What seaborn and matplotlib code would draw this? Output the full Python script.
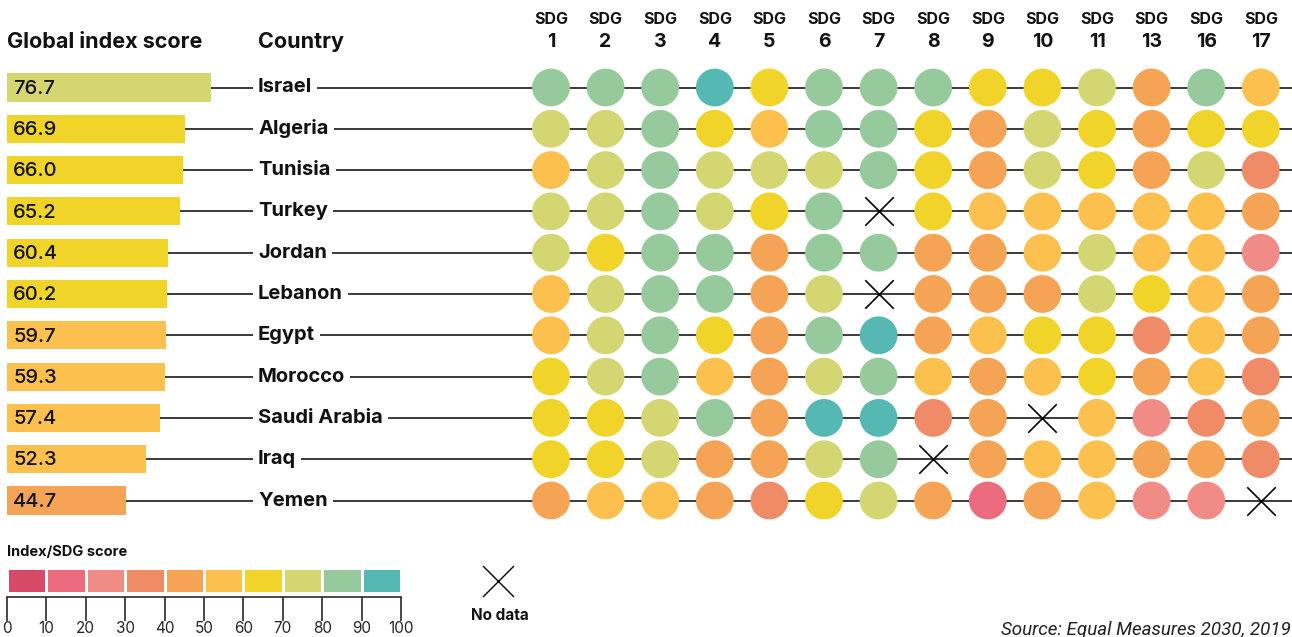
import numpy as np
import pandas as pd
import matplotlib
matplotlib.use('Agg')
import matplotlib.pyplot as plt
import seaborn as sns
from matplotlib.colors import ListedColormap

# data (dot scores are estimates within their colour band)
countries = ['Israel', 'Algeria', 'Tunisia', 'Turkey', 'Jordan', 'Lebanon',
             'Egypt', 'Morocco', 'Saudi Arabia', 'Iraq', 'Yemen']
global_score = [76.7, 66.9, 66.0, 65.2, 60.4, 60.2, 59.7, 59.3, 57.4, 52.3, 44.7]
sdgs = ['1', '2', '3', '4', '5', '6', '7', '8', '9', '10', '11', '13', '16', '17']

nan = np.nan
israel = [85, 85, 85, 95, 65, 85, 85, 85, 65, 65, 75, 45, 85, 55]
algeria = [75, 75, 85, 65, 55, 85, 85, 65, 45, 75, 65, 45, 65, 65]
tunisia = [55, 75, 85, 75, 75, 75, 85, 65, 45, 75, 65, 45, 75, 35]
turkey = [75, 75, 85, 75, 65, 85, nan, 65, 55, 55, 55, 55, 55, 45]
jordan = [75, 65, 85, 85, 45, 85, 85, 45, 45, 55, 75, 55, 55, 25]
lebanon = [55, 75, 85, 85, 45, 75, nan, 45, 45, 45, 75, 65, 55, 45]
egypt = [55, 75, 85, 65, 45, 85, 95, 45, 55, 65, 65, 35, 55, 45]
morocco = [65, 75, 85, 55, 45, 75, 85, 55, 45, 55, 65, 45, 55, 35]
saudi_arabia = [65, 65, 75, 85, 45, 95, 95, 35, 45, nan, 55, 25, 35, 45]
iraq = [65, 65, 75, 45, 45, 75, 85, nan, 45, 55, 55, 45, 45, 35]
yemen = [45, 55, 55, 45, 35, 65, 75, 45, 15, 45, 55, 25, 25, nan]
sdg_scores = [israel, algeria, tunisia, turkey, jordan, lebanon, egypt,
              morocco, saudi_arabia, iraq, yemen]

band_colors = ['#d64a68', '#ec6b7d', '#f08b86', '#f08b68', '#f5a455',
               '#fcc04e', '#f0d42a', '#d4d671', '#96c99c', '#56b8b2']
band_ticks = [0, 10, 20, 30, 40, 50, 60, 70, 80, 90, 100]


def band(v):
    return min(int(v // 10), 9)


sns.set_theme(style='white')
plt.rcParams['font.family'] = ['Inter', 'DejaVu Sans']
ink = '#111111'
line_col = '#2a2a2a'

W, H = 1292, 637
fig = plt.figure(figsize=(W / 100, H / 100), dpi=100)

row_h = 41.3
top_px = 87.5 - row_h / 2
bot_px = top_px + 11 * row_h
ax_bar = fig.add_axes([7 / W, 1 - bot_px / H, 266 / W, 11 * row_h / H])
col_w = 54.6
ax_dots = fig.add_axes([(551 - col_w / 2) / W, 1 - bot_px / H, 14 * col_w / W, 11 * row_h / H])

# --- bars ---
sns.barplot(x=global_score, y=countries, hue=countries,
            palette=[band_colors[band(v)] for v in global_score],
            saturation=1, width=0.68, linewidth=0, legend=False, ax=ax_bar)
ax_bar.set_xlim(0, 100)
ax_bar.set_ylim(10.5, -0.5)
ax_bar.axis('off')

x_right = ax_bar.transData.inverted().transform(fig.transFigure.transform((1, 0)))[0]
ax_bar.hlines(range(len(countries)), global_score, x_right, color=line_col,
              lw=1.3, zorder=0.5, clip_on=False)

LABEL_X = 94.4
for i, (c, v) in enumerate(zip(countries, global_score)):
    ax_bar.text(2.3, i + 0.03, f'{v:.1f}', va='center', ha='left', fontsize=14.5,
                fontweight='medium', color=ink)
    ax_bar.text(LABEL_X, i, c, va='center', ha='left', fontsize=14.5, fontweight='bold',
                color=ink, zorder=3,
                bbox=dict(boxstyle='square,pad=0.25', fc='white', ec='none'))

ax_bar.text(0, -1.1, 'Global index score', va='center', ha='left', fontsize=15.5,
            fontweight='bold', color=ink)
ax_bar.text(LABEL_X, -1.1, 'Country', va='center', ha='left', fontsize=15.5,
            fontweight='bold', color=ink)

# --- dots ---
rows = []
for i, c in enumerate(countries):
    for j, s in enumerate(sdgs):
        rows.append({'row': i, 'col': j, 'score': sdg_scores[i][j]})
df = pd.DataFrame(rows)
have = df.dropna().copy()
have['band'] = have['score'].apply(band)
missing = df[df['score'].isna()]

sns.scatterplot(data=have, x='col', y='row', hue='band',
                palette={k: band_colors[k] for k in range(10)},
                s=740, linewidth=0, legend=False, ax=ax_dots, zorder=3)
sns.scatterplot(data=missing, x='col', y='row', marker='x', color='black',
                s=420, linewidth=1.2, legend=False, ax=ax_dots, zorder=3)
ax_dots.set_xlim(-0.5, 13.5)
ax_dots.set_ylim(10.5, -0.5)
ax_dots.axis('off')

for j, s in enumerate(sdgs):
    ax_dots.text(j, -1.65, 'SDG', ha='center', va='center', fontsize=11.5,
                 fontweight='bold', color=ink)
    ax_dots.text(j, -1.1, s, ha='center', va='center', fontsize=14,
                 fontweight='bold', color=ink)

# --- colour legend ---
ax_leg = fig.add_axes([7 / W, 1 - 593 / H, 394 / W, 25 / H])
sns.heatmap(np.arange(10)[None, :], cmap=ListedColormap(band_colors), cbar=False,
            linewidths=0.8, linecolor='white', xticklabels=False, yticklabels=False,
            ax=ax_leg)
ax_leg.set_xticks(range(11))
ax_leg.set_xticklabels([str(t) for t in band_ticks])
for lab in ax_leg.get_xticklabels():
    lab.set_fontsize(8.5)
    lab.set_fontweight('bold')
    lab.set_color(ink)
ax_leg.spines['bottom'].set_visible(True)
ax_leg.spines['bottom'].set_position(('outward', 3))
ax_leg.spines['bottom'].set_color(line_col)
ax_leg.spines['bottom'].set_linewidth(1.2)
ax_leg.tick_params(axis='x', bottom=True, length=17, width=1.2, color=line_col,
                   direction='out', pad=0.5)
ax_leg.text(0, -0.65, 'Index/SDG score', ha='left', va='center', fontsize=10.5,
            fontweight='bold', color=ink)
ax_leg.scatter([12.46], [0.5], marker='x', s=500, color='black', linewidth=1.0,
               clip_on=False)
ax_leg.text(12.5, 1.88, 'No data', ha='center', va='center', fontsize=11,
            fontweight='bold', color=ink)

fig.text(1291 / W, 1 - 630 / H, 'Source: Equal Measures 2030, 2019', ha='right',
         va='center', fontsize=13.5, style='italic', fontweight='normal',
         family=['Roboto', 'DejaVu Sans'], color='#222222')

fig.savefig('out.png', dpi=100)
